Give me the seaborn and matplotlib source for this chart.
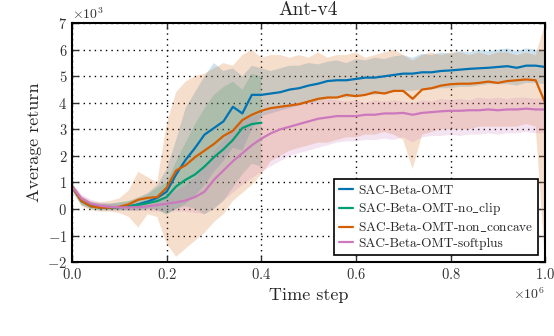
import numpy as np
import pandas as pd
import seaborn as sns
import matplotlib.pyplot as plt

# --- data (returns in units of 1e3, time in units of 1e6) ---
steps = np.linspace(0, 1, 51)

names = ["SAC-Beta-OMT", "SAC-Beta-OMT-no_clip",
         "SAC-Beta-OMT-non_concave", "SAC-Beta-OMT-softplus"]

omt_mean = [0.85, 0.30, 0.12, 0.06, 0.05, 0.07, 0.10, 0.18, 0.28, 0.42,
            0.65, 1.30, 1.85, 2.30, 2.80, 3.05, 3.30, 3.85, 3.60, 4.30,
            4.30, 4.35, 4.40, 4.50, 4.55, 4.65, 4.72, 4.82, 4.85, 4.85,
            4.90, 4.95, 4.95, 5.00, 5.05, 5.10, 5.10, 5.15, 5.15, 5.20,
            5.22, 5.25, 5.28, 5.30, 5.32, 5.35, 5.38, 5.32, 5.40, 5.40, 5.35]
omt_hi = [0.95, 0.45, 0.25, 0.20, 0.20, 0.25, 0.30, 0.45, 0.60, 0.90,
          1.50, 2.60, 3.80, 4.40, 5.00, 5.50, 5.20, 5.30, 5.00, 5.40,
          5.30, 5.20, 5.30, 5.40, 5.40, 5.50, 5.45, 5.55, 5.60, 5.50,
          5.65, 5.60, 5.70, 5.65, 5.75, 5.80, 5.70, 5.85, 5.80, 5.90,
          5.85, 5.95, 5.90, 6.00, 5.95, 6.00, 6.05, 5.95, 6.05, 6.00, 6.00]
omt_lo = [0.70, 0.15, 0.00, -0.05, -0.05, -0.05, -0.05, -0.05, 0.00, 0.00,
          -0.20, 0.00, 0.20, 0.50, 0.90, 1.40, 1.80, 2.30, 2.20, 3.00,
          3.50, 3.60, 3.70, 3.80, 3.90, 4.00, 4.05, 4.15, 4.20, 4.20,
          4.25, 4.30, 4.30, 4.35, 4.40, 4.45, 4.45, 4.50, 4.50, 4.55,
          4.55, 4.60, 4.60, 4.65, 4.70, 4.70, 4.70, 4.65, 4.75, 4.75, 4.70]

noclip_mean = [0.85, 0.30, 0.10, 0.05, 0.05, 0.07, 0.10, 0.15, 0.22, 0.30,
               0.45, 0.85, 1.10, 1.30, 1.60, 1.95, 2.25, 2.60, 3.05, 3.20, 3.25]
noclip_hi = [0.95, 0.45, 0.25, 0.20, 0.20, 0.25, 0.30, 0.40, 0.55, 0.80,
             1.00, 1.80, 2.50, 3.20, 3.80, 4.30, 4.60, 4.80, 4.50, 5.10, 5.00]
noclip_lo = [0.70, 0.15, 0.00, -0.05, -0.05, -0.05, -0.05, -0.05, 0.00, -0.05,
             -0.20, 0.00, 0.10, 0.00, -0.20, 0.00, 0.30, 0.80, 1.30, 1.70, 1.60]

nonconc_mean = [0.85, 0.30, 0.10, 0.05, 0.05, 0.08, 0.18, 0.35, 0.42, 0.45,
                0.80, 1.45, 1.65, 1.95, 2.20, 2.45, 2.75, 2.95, 3.35, 3.55,
                3.70, 3.80, 3.85, 3.90, 3.95, 4.05, 4.15, 4.20, 4.20, 4.30,
                4.25, 4.30, 4.40, 4.35, 4.45, 4.45, 4.15, 4.50, 4.55, 4.65,
                4.70, 4.72, 4.72, 4.75, 4.80, 4.75, 4.82, 4.85, 4.88, 4.85, 4.00]
nonconc_hi = [1.00, 0.50, 0.30, 0.25, 0.30, 0.40, 0.70, 1.40, 1.20, 1.00,
              3.20, 4.40, 4.80, 5.00, 5.10, 5.30, 5.50, 5.40, 5.80, 6.00,
              5.70, 5.80, 5.80, 5.70, 5.80, 5.70, 5.90, 5.70, 5.80, 5.80,
              5.90, 5.70, 5.80, 5.90, 6.00, 5.80, 5.60, 5.80, 5.90, 5.80,
              5.90, 5.90, 5.80, 5.90, 5.80, 5.90, 5.90, 5.80, 5.90, 5.80, 7.00]
nonconc_lo = [0.70, 0.10, -0.05, -0.10, -0.10, -0.15, -0.30, -0.70, -0.20, -0.30,
              -1.30, -1.80, -1.50, -1.20, -0.90, -0.50, -0.20, 0.30, 0.60, 0.90,
              1.30, 1.80, 2.00, 2.20, 2.30, 2.40, 2.50, 2.50, 2.60, 2.70,
              2.70, 2.80, 2.80, 2.90, 2.80, 2.60, 1.50, 2.80, 2.90, 3.00,
              3.00, 3.00, 3.00, 3.10, 3.10, 3.10, 3.10, 3.10, 3.20, 3.10, -2.00]

softplus_mean = [0.85, 0.40, 0.20, 0.12, 0.08, 0.06, 0.06, 0.07, 0.10, 0.15,
                 0.20, 0.25, 0.32, 0.45, 0.65, 1.10, 1.45, 1.80, 2.10, 2.40,
                 2.65, 2.85, 3.00, 3.10, 3.20, 3.30, 3.40, 3.45, 3.50, 3.50,
                 3.50, 3.55, 3.55, 3.60, 3.60, 3.62, 3.55, 3.62, 3.65, 3.68,
                 3.70, 3.70, 3.72, 3.72, 3.75, 3.72, 3.75, 3.75, 3.78, 3.75, 3.75]
softplus_hi = [0.95, 0.55, 0.35, 0.25, 0.20, 0.18, 0.20, 0.22, 0.28, 0.38,
               0.50, 0.70, 0.90, 1.20, 1.60, 2.20, 2.60, 3.00, 3.30, 3.50,
               3.60, 3.75, 3.90, 3.95, 4.00, 4.10, 4.05, 4.15, 4.10, 4.05,
               4.10, 4.00, 4.10, 4.05, 4.10, 4.05, 4.00, 4.10, 4.05, 4.15,
               4.10, 4.15, 4.10, 4.20, 4.15, 4.20, 4.15, 4.20, 4.20, 4.15, 4.20]
softplus_lo = [0.70, 0.25, 0.05, 0.00, -0.05, -0.05, -0.08, -0.08, -0.08, -0.10,
               -0.10, -0.10, -0.10, -0.15, -0.20, 0.00, 0.30, 0.60, 0.90, 1.15,
               1.40, 1.60, 1.80, 2.00, 2.10, 2.20, 2.30, 2.40, 2.50, 2.55,
               2.55, 2.60, 2.60, 2.65, 2.60, 2.70, 2.50, 2.70, 2.75, 2.75,
               2.80, 2.75, 2.80, 2.80, 2.85, 2.80, 2.85, 2.85, 2.90, 2.85, 2.85]

series = [
    (names[0], omt_mean, omt_lo, omt_hi),
    (names[1], noclip_mean, noclip_lo, noclip_hi),
    (names[2], nonconc_mean, nonconc_lo, nonconc_hi),
    (names[3], softplus_mean, softplus_lo, softplus_hi),
]

cb = sns.color_palette("colorblind")
colors = {names[0]: cb[0], names[1]: cb[2], names[2]: cb[3], names[3]: cb[4]}

rows = []
for name, mean, lo, hi in series:
    for t, m in zip(steps, mean):
        rows.append({"step": t * 1e6, "ret": m * 1e3, "algo": name})
df = pd.DataFrame(rows)

# --- style ---
sns.set_style("ticks")
plt.rcParams["font.family"] = ["cmr10", "DejaVu Serif"]
plt.rcParams["mathtext.fontset"] = "cm"
plt.rcParams["axes.formatter.use_mathtext"] = True
plt.rcParams["axes.unicode_minus"] = True

fig = plt.figure(figsize=(5.54, 3.36), dpi=100)
ax = fig.add_axes([0.130, 0.220, 0.854, 0.711])

for name, mean, lo, hi in series:
    x = steps[:len(mean)] * 1e6
    ax.fill_between(x, np.array(lo) * 1e3, np.array(hi) * 1e3,
                    color=colors[name], alpha=0.2, edgecolor="white",
                    linewidth=0.6, linestyle=":")

sns.lineplot(data=df, x="step", y="ret", hue="algo", hue_order=names,
             palette=colors, linewidth=1.6, ax=ax, legend=True)

ax.set_xlim(0, 1e6)
ax.set_ylim(-2000, 7000)
ax.set_yticks(np.arange(-2000, 7001, 1000))
ax.set_xticks(np.linspace(0, 1e6, 6))
ax.ticklabel_format(style="sci", axis="both", scilimits=(0, 0))

ax.grid(True, color="black", linestyle=(0, (1, 3)), linewidth=1)
ax.tick_params(direction="in", top=True, right=True, length=4, width=1,
               labelsize=10.5, colors="#333333", labelcolor="#333333")
for s in ax.spines.values():
    s.set_linewidth(1.5)
    s.set_color("black")

ax.set_title("Ant-v4", fontsize=14)
ax.set_xlabel("Time step", fontsize=13)
ax.set_ylabel("Average return", fontsize=13)
ax.xaxis.get_offset_text().set_fontsize(10)
ax.yaxis.get_offset_text().set_fontsize(10)

# underscores typeset as in LaTeX
handles, _ = ax.get_legend_handles_labels()
labels = [n.replace("_", r"$\_$") for n in names]
leg = ax.legend(handles, labels, loc="lower right", fontsize=9.6,
                frameon=True, fancybox=False, handlelength=1.0,
                handletextpad=0.4, borderpad=0.4, labelspacing=0.25,
                framealpha=1)
leg.get_frame().set_edgecolor("black")
leg.get_frame().set_linewidth(1.2)

fig.savefig("out.png", dpi=100)
